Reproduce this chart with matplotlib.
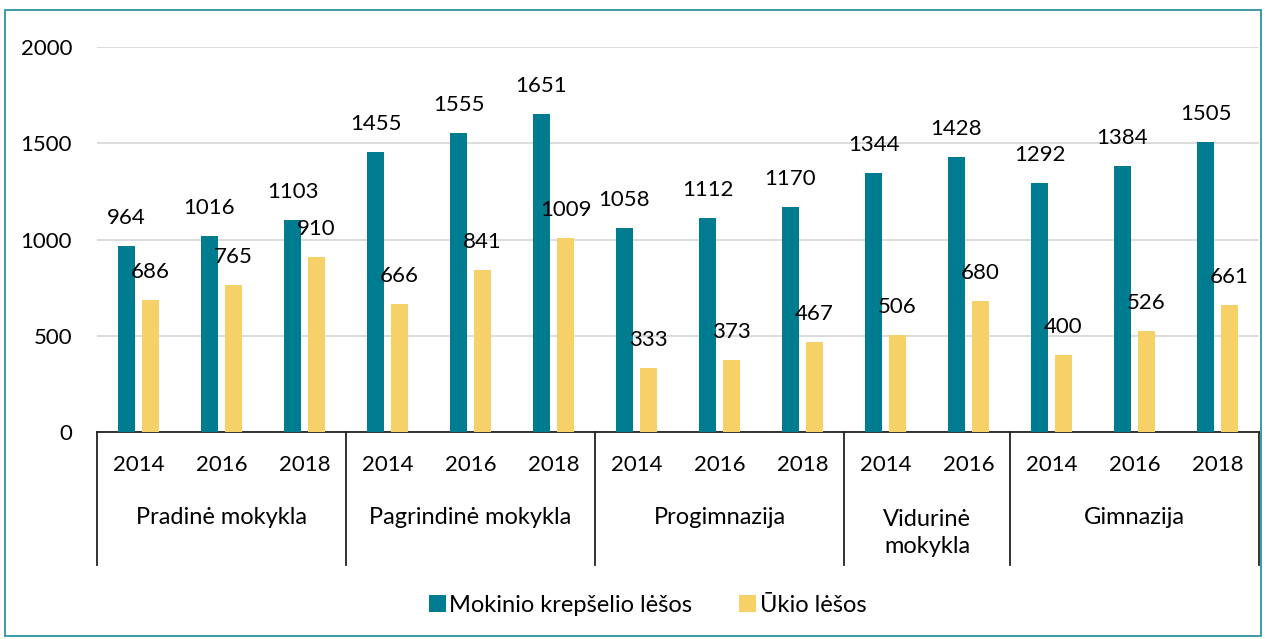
import matplotlib.pyplot as plt
import numpy as np
from matplotlib.patches import Rectangle

plt.rcParams['font.family'] = ['Lato', 'DejaVu Sans']

groups = ['Pradinė mokykla', 'Pagrindinė mokykla', 'Progimnazija', 'Vidurinė\nmokykla', 'Gimnazija']
group_years = [['2014', '2016', '2018'],
               ['2014', '2016', '2018'],
               ['2014', '2016', '2018'],
               ['2014', '2016'],
               ['2014', '2016', '2018']]
krepselis = [964, 1016, 1103, 1455, 1555, 1651, 1058, 1112, 1170, 1344, 1428, 1292, 1384, 1505]
ukio = [686, 765, 910, 666, 841, 1009, 333, 373, 467, 506, 680, 400, 526, 661]
series_names = ['Mokinio krepšelio lėšos', 'Ūkio lėšos']

c_teal = '#007C91'
c_yellow = '#F5D167'
fs = 16

years = [y for g in group_years for y in g]
n = len(years)
x = np.arange(n)

fig = plt.figure(figsize=(12.65, 6.39), dpi=100)
ax = fig.add_axes([97 / 1265, 1 - 432 / 639, (1259 - 97) / 1265, (432 - 47) / 639])

w = 0.215
off = 0.145
b1 = ax.bar(x - off, krepselis, w, color=c_teal, label=series_names[0], zorder=3)
b2 = ax.bar(x + off, ukio, w, color=c_yellow, label=series_names[1], zorder=3)
for bars, vals in ((b1, krepselis), (b2, ukio)):
    for r, v in zip(bars, vals):
        ax.annotate(str(v), (r.get_x() + r.get_width() / 2, v), xytext=(0, 13),
                    textcoords='offset points', ha='center', va='bottom',
                    fontsize=fs, color='black', zorder=4)

ax.set_xlim(-0.5, n - 0.5)
ax.set_ylim(0, 2000)
ax.set_yticks([0, 500, 1000, 1500, 2000])
ax.yaxis.grid(True, color='#D9D9D9', linewidth=1.3, zorder=0)
ax.tick_params(axis='y', length=0, labelsize=fs, pad=18)
ax.set_xticks([])
for s in ['top', 'right', 'left']:
    ax.spines[s].set_visible(False)
ax.spines['bottom'].set_linewidth(1.3)
ax.spines['bottom'].set_color('#222222')

# metų žymės
trans = ax.get_xaxis_transform()
for i, y in enumerate(years):
    ax.text(i, -0.0857, y, transform=trans, ha='center', va='center', fontsize=fs)

# grupių pavadinimai ir skirtukai
edges = np.cumsum([0] + [len(g) for g in group_years]) - 0.5
for k, g in enumerate(groups):
    mid = (edges[k] + edges[k + 1]) / 2
    ypos = -0.262 if '\n' in g else -0.221
    ax.text(mid, ypos, g, transform=trans, ha='center', va='center', fontsize=17,
            linespacing=1.35)
for e in edges:
    ax.plot([e, e], [0, -0.345], transform=trans, color='#222222', lw=1.3, clip_on=False)

fig.legend(handles=[b1, b2], loc='center', bbox_to_anchor=(0.512, 1 - 605 / 639),
           ncol=2, frameon=False, fontsize=17, handlelength=0.7, handleheight=0.7,
           handletextpad=0.15, columnspacing=2.0)

fig.patches.append(Rectangle((5 / 1265, 3 / 639), 1256 / 1265, 626 / 639, transform=fig.transFigure,
                             fill=False, edgecolor='#1B8A9A', lw=1.2))

fig.savefig('out.png', dpi=100)
